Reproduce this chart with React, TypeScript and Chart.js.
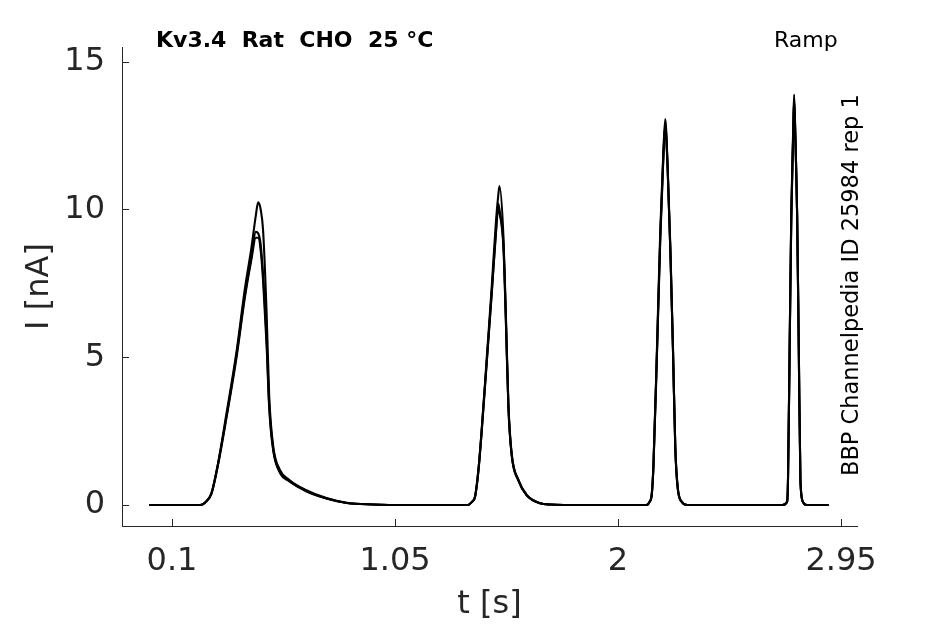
import { Chart, registerables } from 'chart.js';
import { useEffect, useRef } from 'react';

Chart.register(...registerables);

// sample times [s], denser around the four ramp peaks
const times = [
    0.002, 0.1, 0.2,
    0.22, 0.24, 0.268, 0.296, 0.332, 0.375, 0.41, 0.438, 0.457, 0.467, 0.478, 0.488, 0.503, 0.514, 0.531, 0.559, 0.6, 0.673, 0.758, 0.844, 0.956,
    1.1, 1.25,
    1.36, 1.377, 1.391, 1.405, 1.419, 1.441, 1.462, 1.48, 1.49, 1.495, 1.512, 1.523, 1.533, 1.547, 1.576, 1.611, 1.668, 1.711,
    1.85, 2.0, 2.12,
    2.134, 2.144, 2.151, 2.166, 2.18, 2.191, 2.201, 2.211, 2.223, 2.234, 2.244, 2.254, 2.272, 2.294,
    2.4, 2.55, 2.7,
    2.72, 2.724, 2.731, 2.738, 2.746, 2.75, 2.755, 2.763, 2.77, 2.777, 2.788, 2.805,
    2.85, 2.897,
];

// current [nA], one array per repetition
const traceA = [
    0, 0, 0,
    0, 0.08, 0.4, 1.4, 3.1, 5.2, 7.3, 8.7, 9.8, 10.25, 10.0, 9.3, 6.5, 3.7, 2.0, 1.2, 0.85, 0.5, 0.24, 0.08, 0.02,
    0, 0,
    0, 0.11, 0.3, 1.18, 2.53, 5.0, 7.4, 9.6, 10.5, 10.8, 9.07, 6.25, 3.43, 1.74, 0.85, 0.34, 0.06, 0.02,
    0, 0, 0,
    0.11, 0.4, 1.4, 5.35, 9.3, 11.55, 13.07, 11.55, 8.73, 5.35, 1.97, 0.62, 0.11, 0,
    0, 0, 0,
    0.11, 0.85, 5.35, 9.86, 12.67, 13.9, 12.67, 9.86, 5.35, 0.85, 0.11, 0,
    0, 0,
];
const traceB = [
    0, 0, 0,
    0, 0.08, 0.4, 1.4, 3.0, 5.1, 7.1, 8.4, 9.25, 9.2, 8.8, 7.8, 5.6, 3.4, 1.9, 1.15, 0.82, 0.48, 0.22, 0.07, 0.02,
    0, 0,
    0, 0.1, 0.28, 1.15, 2.5, 4.9, 7.2, 9.3, 10.2, 10.0, 8.8, 6.1, 3.35, 1.7, 0.83, 0.33, 0.06, 0.02,
    0, 0, 0,
    0.1, 0.38, 1.35, 5.2, 9.1, 11.4, 12.9, 11.5, 8.6, 5.3, 1.95, 0.6, 0.1, 0,
    0, 0, 0,
    0.1, 0.82, 5.25, 9.7, 12.5, 13.75, 12.6, 9.8, 5.3, 0.83, 0.1, 0,
    0, 0,
];
const traceC = [
    0, 0, 0,
    0, 0.07, 0.38, 1.35, 2.95, 5.0, 7.0, 8.3, 9.05, 9.05, 8.6, 7.6, 5.4, 3.3, 1.85, 1.1, 0.8, 0.46, 0.22, 0.07, 0.02,
    0, 0,
    0, 0.1, 0.28, 1.12, 2.45, 4.85, 7.15, 9.2, 10.05, 9.9, 8.7, 6.0, 3.3, 1.68, 0.82, 0.33, 0.06, 0.02,
    0, 0, 0,
    0.1, 0.38, 1.33, 5.15, 9.0, 11.3, 12.85, 11.45, 8.55, 5.25, 1.9, 0.58, 0.1, 0,
    0, 0, 0,
    0.1, 0.8, 5.2, 9.65, 12.45, 13.7, 12.55, 9.75, 5.25, 0.8, 0.1, 0,
    0, 0,
];

const traces = [traceA, traceB, traceC];

const tTicks = [0.1, 1.05, 2, 2.95];
const tTickLabels = ['0.1', '1.05', '2', '2.95'];
const iTicks = [0, 5, 10, 15];

const titleText = 'Kv3.4  Rat  CHO  25 °C';
const protocolText = 'Ramp';
const sourceText = 'BBP Channelpedia ID 25984 rep 1';

const FONT = '"DejaVu Sans", sans-serif';
const AXIS_COLOR = '#262626';

// header texts and the rotated source label
const annotations = {
    id: 'annotations',
    afterDraw(chart: Chart) {
        const ctx = chart.ctx;
        ctx.save();
        ctx.fillStyle = '#000';
        ctx.textBaseline = 'alphabetic';
        ctx.textAlign = 'left';
        ctx.font = `bold 22px ${FONT}`;
        ctx.fillText(titleText, 156, 47);
        ctx.font = `22px ${FONT}`;
        ctx.fillText(protocolText, 774, 47);
        ctx.translate(858, 476);
        ctx.rotate(-Math.PI / 2);
        ctx.font = `22.5px ${FONT}`;
        ctx.fillText(sourceText, 0, 0);
        ctx.restore();
    },
};

function RampChart() {
    const chartRef = useRef<HTMLCanvasElement | null>(null);
    const chartInstanceRef = useRef<Chart | null>(null);

    useEffect(() => {
        if (!chartRef.current) return;

        chartInstanceRef.current = new Chart(chartRef.current, {
            type: 'line',
            data: {
                datasets: traces.map((trace, i) => ({
                    label: `rep ${i + 1}`,
                    data: times.map((t, j) => ({ x: t, y: trace[j] })),
                    borderColor: '#000',
                    borderWidth: 2.1,
                    pointRadius: 0,
                    cubicInterpolationMode: 'monotone' as const,
                    fill: false,
                })),
            },
            options: {
                animation: false,
                responsive: false,
                events: [],
                layout: { padding: { left: 0, top: 47, right: 88, bottom: 0 } },
                plugins: {
                    legend: { display: false },
                    tooltip: { enabled: false },
                },
                scales: {
                    x: {
                        type: 'linear',
                        min: -0.113,
                        max: 3.018,
                        afterBuildTicks: (scale) => {
                            scale.ticks = tTicks.map((v) => ({ value: v }));
                        },
                        afterFit: (scale) => {
                            scale.height = 98;
                        },
                        grid: {
                            display: true,
                            drawOnChartArea: false,
                            drawTicks: true,
                            tickLength: -7,
                            color: AXIS_COLOR,
                        },
                        border: { display: true, color: AXIS_COLOR, width: 1 },
                        ticks: {
                            padding: 23,
                            color: AXIS_COLOR,
                            font: { family: FONT, size: 32 },
                            maxRotation: 0,
                            autoSkip: false,
                            callback: (_v, i) => tTickLabels[i],
                        },
                        title: {
                            display: true,
                            text: 't [s]',
                            color: AXIS_COLOR,
                            font: { family: FONT, size: 32 },
                            padding: { top: 0, bottom: 0 },
                        },
                    },
                    y: {
                        type: 'linear',
                        min: -0.71,
                        max: 15.51,
                        afterBuildTicks: (scale) => {
                            scale.ticks = iTicks.map((v) => ({ value: v }));
                        },
                        afterFit: (scale) => {
                            scale.width = 122;
                        },
                        grid: {
                            display: true,
                            drawOnChartArea: false,
                            drawTicks: true,
                            tickLength: -7,
                            color: AXIS_COLOR,
                        },
                        border: { display: true, color: AXIS_COLOR, width: 1 },
                        ticks: {
                            padding: 24,
                            color: AXIS_COLOR,
                            font: { family: FONT, size: 32 },
                            callback: (v) => String(v),
                        },
                        title: {
                            display: true,
                            text: 'I [nA]',
                            color: AXIS_COLOR,
                            font: { family: FONT, size: 32 },
                            padding: { top: 20, bottom: 0 },
                        },
                    },
                },
            },
            plugins: [annotations],
        });

        return () => {
            if (chartInstanceRef.current) {
                chartInstanceRef.current.destroy();
                chartInstanceRef.current = null;
            }
        };
    }, []);

    return <canvas ref={chartRef} width='945' height='624' style={{ display: 'block' }}></canvas>;
}

export default function App() {
    return (
        <div style={{ position: 'absolute', left: 0, top: 0, width: 945, height: 624, background: '#fff' }}>
            <RampChart />
        </div>
    );
}
